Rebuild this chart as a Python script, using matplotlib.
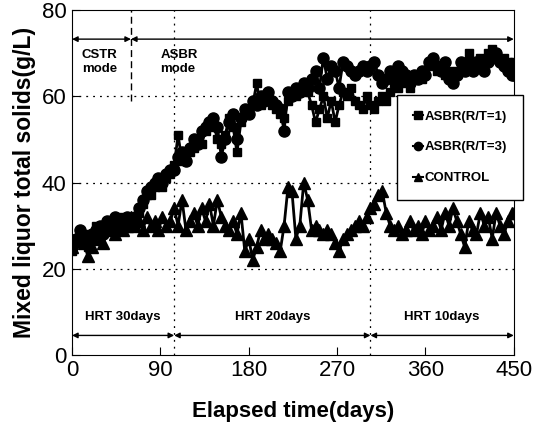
import matplotlib
matplotlib.use("Agg")
import matplotlib.pyplot as plt
from matplotlib import font_manager

plt.rcParams['font.family'] = ['Liberation Sans', 'DejaVu Sans']

# narrow face for the small annotation text, if present
try:
    font_manager.findfont('Liberation Sans Narrow', fallback_to_default=False)
    small_family = ['Liberation Sans Narrow', 'Liberation Sans']
    small_size = 11
except ValueError:
    small_family = ['Liberation Sans', 'DejaVu Sans']
    small_size = 9.5

days = [0, 4, 8, 12, 16, 20, 24, 28, 32, 36, 40, 44, 48, 52, 56, 60,
        64, 68, 72, 76, 80, 84, 88, 92, 96, 100,
        104, 108, 112, 116, 120, 124, 128, 132, 136, 140, 144, 148, 152,
        156, 160, 164, 168, 172, 176, 180, 184, 188, 192, 196, 200,
        204, 208, 212, 216, 220, 224, 228, 232, 236, 240, 244, 248, 252,
        256, 260, 264, 268, 272, 276, 280, 284, 288, 292, 296, 300,
        304, 308, 312, 316, 320, 324, 328, 332, 336, 340, 344, 348,
        352, 356, 360, 364, 368, 372, 376, 380, 384, 388, 392, 396, 400,
        404, 408, 412, 416, 420, 424, 428, 432, 436, 440, 444, 448, 450]

asbr_rt1 = [24, 26, 27, 28, 25, 27, 30, 28, 28, 30, 29, 31, 30, 32, 31, 31,
            31, 33, 35, 37, 37, 39, 40, 39, 41, 42,
            44, 51, 45, 46, 47, 48, 50, 49, 52, 53, 54, 50, 49,
            51, 55, 53, 47, 54, 56, 57, 58, 63, 58, 59, 60,
            58, 57, 56, 55, 59, 61, 60, 62, 63, 61, 58, 54, 57,
            60, 55, 59, 54, 58, 61, 60, 62, 59, 58, 57, 60,
            58, 57, 59, 60, 59, 61, 63, 62, 64, 63, 62, 64,
            65, 64, 66, 67, 68, 66, 67, 65, 66, 64, 66, 67, 68,
            70, 68, 67, 69, 68, 70, 71, 69, 68, 69, 68, 67, 68]

asbr_rt3 = [25, 27, 29, 27, 26, 28, 29, 30, 28, 31, 30, 32, 29, 31, 32, 30,
            32, 34, 36, 38, 39, 40, 41, 40, 42, 43,
            43, 46, 47, 45, 48, 50, 49, 52, 53, 54, 55, 53, 46,
            50, 54, 56, 50, 55, 57, 56, 59, 58, 60, 59, 61,
            59, 58, 57, 52, 61, 60, 62, 61, 63, 62, 64, 66, 62,
            69, 64, 67, 66, 62, 68, 67, 66, 65, 66, 67, 66,
            67, 68, 65, 63, 64, 66, 65, 67, 66, 65, 63, 65,
            64, 66, 65, 68, 69, 67, 66, 68, 64, 63, 65, 68, 66,
            67, 66, 68, 67, 66, 68, 69, 70, 68, 67, 66, 65, 65]

control = [25, 27, 28, 26, 23, 25, 29, 27, 26, 29, 30, 28, 31, 29, 30, 32,
           30, 31, 29, 32, 30, 31, 29, 32, 30, 31,
           34, 30, 36, 29, 31, 33, 30, 34, 31, 35, 30, 36, 32,
           30, 29, 31, 28, 33, 24, 27, 22, 25, 29, 27, 28,
           27, 26, 24, 30, 39, 38, 27, 30, 40, 36, 29, 30, 29,
           28, 29, 28, 26, 24, 27, 28, 29, 30, 31, 30, 32,
           34, 35, 37, 38, 33, 30, 29, 30, 28, 29, 31, 29,
           30, 28, 31, 29, 30, 32, 29, 33, 30, 34, 31, 28, 25,
           31, 29, 28, 33, 30, 32, 27, 33, 30, 28, 31, 33, 33]

fig = plt.figure(figsize=(5.46, 4.28), dpi=100)
ax = fig.add_axes([0.132, 0.171, 0.809, 0.805])

ax.plot(days, asbr_rt1, color='black', lw=2, marker='s', ms=6,
        label='ASBR(R/T=1)')
ax.plot(days, asbr_rt3, color='black', lw=2, marker='o', ms=8,
        label='ASBR(R/T=3)')
ax.plot(days, control, color='black', lw=2, marker='^', ms=8.5,
        label='CONTROL')

ax.set_xlim(0, 450)
ax.set_ylim(0, 80)
ax.set_xticks([0, 90, 180, 270, 360, 450])
ax.set_yticks([0, 20, 40, 60, 80])
ax.tick_params(direction='in', length=6, labelsize=16, pad=4)

# grid and phase boundaries
for y in (20, 40, 60):
    ax.axhline(y, color='black', lw=0.9, ls=(0, (1.5, 4)))
for x in (104, 304):
    ax.axvline(x, color='black', lw=0.9, ls=(0, (1.5, 4)))
ax.plot([60, 60], [59, 80], color='black', lw=1, ls=(0, (5, 3)))

arrow = dict(arrowstyle='<|-|>', color='black', lw=1, mutation_scale=8,
             shrinkA=0, shrinkB=0)
for x0, x1 in ((0, 60), (60, 450)):
    ax.annotate('', xy=(x0, 73.3), xytext=(x1, 73.3), arrowprops=arrow)
for x0, x1 in ((0, 104), (104, 304), (304, 450)):
    ax.annotate('', xy=(x0, 4.5), xytext=(x1, 4.5), arrowprops=arrow)

txt = dict(family=small_family, fontsize=small_size, fontweight='bold')
ax.text(10, 68, 'CSTR\nmode', va='center', linespacing=1.3, **txt)
ax.text(90, 68, 'ASBR\nmode', va='center', linespacing=1.3, **txt)
ax.text(52, 8.7, 'HRT 30days', ha='center', va='center', **txt)
ax.text(204, 8.7, 'HRT 20days', ha='center', va='center', **txt)
ax.text(377, 8.7, 'HRT 10days', ha='center', va='center', **txt)

leg = ax.legend(loc='upper left', bbox_to_anchor=(0.735, 0.755),
                fancybox=False, edgecolor='black', framealpha=1,
                handlelength=0.8, handletextpad=0.1, borderpad=1.2,
                borderaxespad=0, labelspacing=1.4,
                prop={'family': small_family, 'weight': 'bold',
                      'size': small_size})
leg.get_frame().set_linewidth(1)
for h in leg.legend_handles:
    h.set_markersize(6)
    h.set_linewidth(1.5)

ax.set_xlabel('Elapsed time(days)', fontsize=16, fontweight='bold',
              labelpad=14)
ax.set_ylabel('Mixed liquor total solids(g/L)', fontsize=16.5,
              fontweight='bold', labelpad=4)

fig.savefig('out.png', dpi=100)
